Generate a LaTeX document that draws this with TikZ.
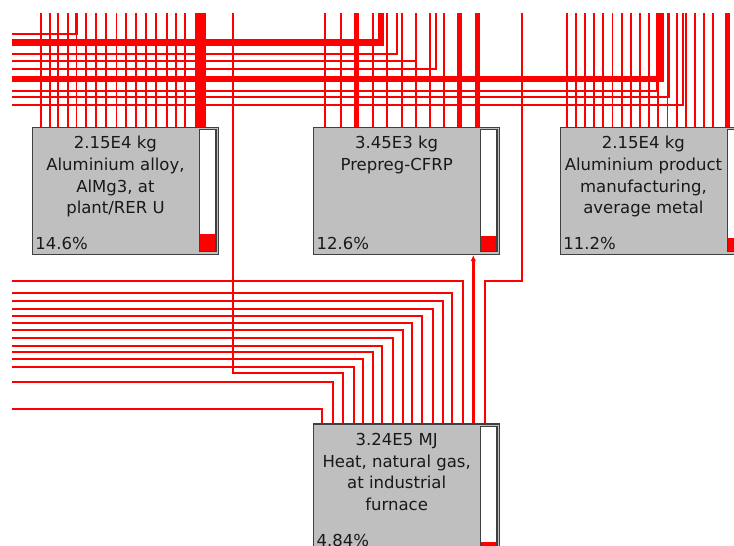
\documentclass[tikz,border=0pt]{standalone}
\usepackage{fontspec}
\setmainfont{DejaVu Sans}
\usetikzlibrary{arrows.meta,positioning,backgrounds}
\tikzset{
  flow/.style={red,line width=1.8pt},
  heavyflow/.style={red,line width=#1,line join=miter},
  procbox/.style={draw=black!75,fill=black!25,line width=1.5pt,minimum width=186pt,minimum height=127pt,inner sep=0pt,anchor=north west},
  boxlabel/.style={font=\fontsize{16.5}{21.7}\selectfont,align=center,inner sep=0pt,text=black!90},
  sharelabel/.style={font=\fontsize{16.5}{20}\selectfont,inner sep=0pt,text=black!90},
  barframe/.style={draw=black!75,line width=1.3pt}
}

\begin{document}
\begin{tikzpicture}[x=1pt,y=-1pt]
\useasboundingbox (0,0) rectangle (734,546);
\clip (0,0) rectangle (734,546);
\coordinate (topedge) at (0,13);
\coordinate (leftedge) at (12,0);

% process boxes
\node[procbox] (alloy) at (31.7,126.5) {};
\node[procbox] (prepreg) at (312.9,126.5) {};
\node[procbox] (product) at (559.7,126.5) {};
\node[procbox] (heat) at (312.9,423) {};

\node[boxlabel,below=9.5pt of alloy.north,xshift=-10pt] (alloytext) {2.15E4 kg\\Aluminium alloy,\\AlMg3, at\\plant/RER U};
\node[boxlabel,below=9.5pt of prepreg.north,xshift=-10pt] (prepregtext) {3.45E3 kg\\Prepreg-CFRP};
\node[boxlabel,below=9.5pt of product.north,xshift=-10pt] (producttext) {2.15E4 kg\\Aluminium product\\manufacturing,\\average metal};
\node[boxlabel,below=10pt of heat.north,xshift=-10pt] (heattext) {3.24E5 MJ\\Heat, natural gas,\\at industrial\\furnace};

\node[sharelabel,above right=4.9pt and 3.5pt of alloy.south west] (alloyshare) {14.6\%};
\node[sharelabel,above right=4.9pt and 3.5pt of prepreg.south west] (prepregshare) {12.6\%};
\node[sharelabel,above right=4.9pt and 3.5pt of product.south west] (productshare) {11.2\%};
\node[sharelabel,above right=4.9pt and 3.5pt of heat.south west] (heatshare) {4.84\%};

% score bars
\foreach \b/\p in {alloy/14.6,prepreg/12.6,product/11.2,heat/4.84}{
  \pgfmathsetmacro{\redtop}{3.3+1.22*\p}
  \fill[white] ([xshift=-20pt,yshift=-3.3pt]\b.north east) rectangle ([xshift=-3.3pt,yshift=3.3pt]\b.south east);
  \fill[red] ([xshift=-20pt,yshift=3.3pt]\b.south east) rectangle ([xshift=-3.3pt,yshift=\redtop pt]\b.south east);
  \draw[barframe] ([xshift=-20pt,yshift=-3.3pt]\b.north east) rectangle ([xshift=-3.3pt,yshift=3.3pt]\b.south east);
}

\begin{scope}[on background layer]
% inputs from above
\foreach \x in {41.3,50,58.3,68.3,76.5,86,96,106,116.5,126,136,146,156,166.7,175.7,185}
  \draw[flow] (\x,0 |- topedge) -- (\x,0 |- alloy.north);
\draw[heavyflow=10.5pt] (200.5,0 |- topedge) -- (200.5,0 |- alloy.north);
\foreach \x in {325,341,372.7,387.3,401.7,416,430,444}
  \draw[flow] (\x,0 |- topedge) -- (\x,0 |- prepreg.north);
\foreach \x/\w in {356.7/4.5pt,459.3/4.5pt,477.5/5pt}
  \draw[heavyflow=\w] (\x,0 |- topedge) -- (\x,0 |- prepreg.north);
\foreach \i in {0,...,16}{
  \pgfmathsetmacro{\xx}{566.7+9.16*\i}
  \draw[flow] (\xx,0 |- topedge) -- (\xx,0 |- product.north);
}
\draw[heavyflow=5pt] (727,0 |- topedge) -- (727,0 |- product.north);

% flows leaving upwards
\draw[heavyflow=2.3pt] (leftedge |- 0,34) -- (76.5,34) -- (76.5,0 |- topedge);
\draw[heavyflow=6.5pt] (leftedge |- 0,42.7) -- (381.2,42.7) -- (381.2,0 |- topedge);
\foreach \y/\x in {54.3/396.7,61/416.5,69/436,91/656.5,97.3/669.3,105.3/682.7}
  \draw[flow] (leftedge |- 0,\y) -- (\x,\y) -- (\x,0 |- topedge);
\draw[heavyflow=6pt] (leftedge |- 0,79.3) -- (661,79.3) -- (661,0 |- topedge);

% inputs of the heat process
\foreach \y/\x in {280.7/463.3,293.3/452.3,301.3/442.7,309.3/432.7,315.7/421.7,323.3/412.3,330/402.7,337.7/393.3,346/382.3,352.3/372.7,359.3/363.3,366.7/354,381.7/333.3,409/322.3}
  \draw[flow] (leftedge |- 0,\y) -- (\x,\y) -- (\x,0 |- heat.north);
\draw[flow] (232.7,0 |- topedge) -- (232.7,373.3) -- (342.7,373.3) -- (342.7,0 |- heat.north);
\draw[flow] (521.7,0 |- topedge) -- (521.7,280.7) -- (484.7,280.7) -- (484.7,0 |- heat.north);
\draw[heavyflow=3pt,-{Latex[length=6pt,width=5.5pt]}] (473.3,0 |- heat.north) -- (473.3,0 |- prepreg.south);
\end{scope}
\end{tikzpicture}
\end{document}
